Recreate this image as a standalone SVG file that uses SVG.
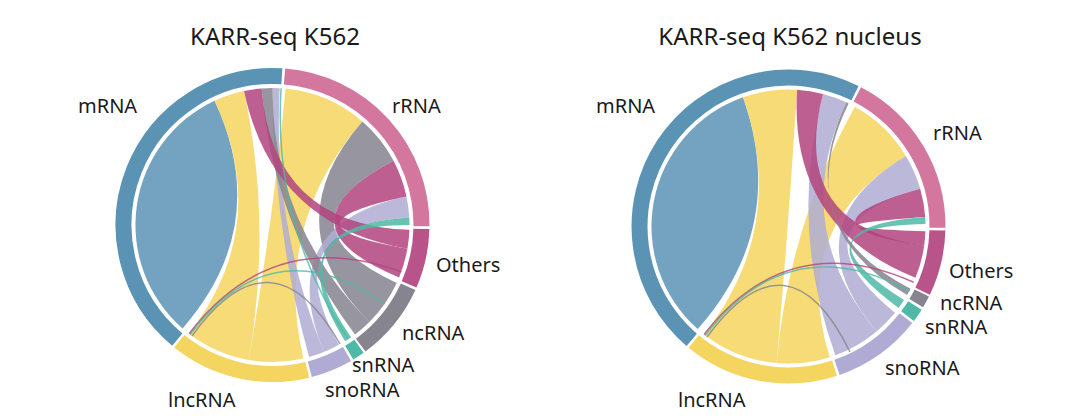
<svg xmlns="http://www.w3.org/2000/svg" width="1078" height="419" viewBox="0 0 1078 419">
<style>
text{font-family:"Noto Sans","Liberation Sans",sans-serif;fill:#1a1a1a}
.t{font-size:24px;text-anchor:middle}
.l{font-size:20px}
.ring{fill:none;stroke-width:16}
.rb{fill-opacity:.85;stroke:none}
.ln{fill:none;stroke-width:1.5;stroke-opacity:.8}
</style>
<rect width="1078" height="419" fill="#fff"/>
<text class="t" x="275" y="45">KARR-seq K562</text>
<text class="t" x="790" y="45">KARR-seq K562 nucleus</text>

<g id="left-ribbons">
<path class="rb" fill="#5b93b5" d="M182.6,328.4 A137,137 0 0 1 214.6,100.8 Q272.5,225 182.6,328.4Z"/>
<path class="rb" fill="#f4d55f" d="M214.6,100.8 A137,137 0 0 1 244,91 Q272.5,225 248.7,359.9 A137,137 0 0 1 189.1,333.7 Q272.5,225 214.6,100.8Z"/>
<path class="rb" fill="#f4d55f" d="M285.6,88.6 A137,137 0 0 1 362.4,121.6 Q272.5,225 303.3,358.5 A137,137 0 0 1 248.7,359.9 Q272.5,225 285.6,88.6Z"/>
<path class="rb" fill="#85848f" d="M362.4,121.6 A137,137 0 0 1 393.5,160.7 Q272.5,225 396.7,282.9 A137,137 0 0 1 369.4,321.9 Q272.5,225 362.4,121.6Z"/>
<path class="rb" fill="#b0abd4" d="M406.5,196.5 A137,137 0 0 1 409.3,217.8 Q272.5,225 338.9,344.8 A137,137 0 0 1 323.8,352 Q272.5,225 406.5,196.5Z"/>
<path class="rb" fill="#b0abd4" d="M272.5,88 A137,137 0 0 1 279.7,88.2 Q272.5,225 323.8,352 A137,137 0 0 1 309.1,357 Q272.5,225 272.5,88Z"/>
<path class="rb" fill="#85848f" d="M261.7,88.4 A137,137 0 0 1 272.5,88 Q272.5,225 369.4,321.9 A137,137 0 0 1 355,334.4 Q272.5,225 261.7,88.4Z"/>
<path class="rb" fill="#b2447e" d="M393.5,160.7 A137,137 0 0 1 406.5,196.5 Q272.5,225 407.4,248.8 A137,137 0 0 1 399.1,277.4 Q272.5,225 393.5,160.7Z"/>
<path class="rb" fill="#b2447e" d="M244,91 A137,137 0 0 1 261.7,88.4 Q272.5,225 409.4,229.8 A137,137 0 0 1 407.4,248.8 Q272.5,225 244,91Z"/>
<path class="rb" fill="#4fb8a6" d="M409.3,217.8 A137,137 0 0 1 409.5,225 Q272.5,225 351.1,337.2 A137,137 0 0 1 345.1,341.2 Q272.5,225 409.3,217.8Z"/>
<path class="ln" stroke="#4fb8a6" d="M281.1,88.3 Q272.5,225 348,339"/>
<path class="ln" stroke="#b2447e" d="M189.1,333.7 Q272.5,225 401.2,271.9"/>
<path class="ln" stroke="#4fb8a6" d="M190,334.5 Q272.5,225 384.7,303.6"/>
<path class="ln" stroke="#85848f" d="M192,336 Q272.5,225 340,344"/>
</g>
<g id="left-mRNA"><path class="ring" stroke="#5b93b5" d="M177.3,339.6 A149,149 0 0 1 281.9,76.3"/></g>
<g id="left-rRNA"><path class="ring" stroke="#d3779e" d="M284.5,76.5 A149,149 0 0 1 421.5,226.3"/></g>
<g id="left-Others"><path class="ring" stroke="#b9548b" d="M421.4,228.9 A149,149 0 0 1 409.1,284.4"/></g>
<g id="left-ncRNA"><path class="ring" stroke="#85848f" d="M408.1,286.8 A149,149 0 0 1 360.7,345.1"/></g>
<g id="left-snRNA"><path class="ring" stroke="#4fb8a6" d="M359,346.3 A149,149 0 0 1 349.2,352.7"/></g>
<g id="left-snoRNA"><path class="ring" stroke="#b0abd4" d="M347,354 A149,149 0 0 1 309.8,369.2"/></g>
<g id="left-lncRNA"><path class="ring" stroke="#f4d55f" d="M307.3,369.9 A149,149 0 0 1 179.3,341.3"/></g>
<g id="left-labels">
<text class="l" x="78" y="113">mRNA</text>
<text class="l" x="392" y="113">rRNA</text>
<text class="l" x="436" y="272">Others</text>
<text class="l" x="402" y="340">ncRNA</text>
<text class="l" x="352" y="372">snRNA</text>
<text class="l" x="325" y="397">snoRNA</text>
<text class="l" x="168" y="407">lncRNA</text>
</g>

<g id="right-ribbons">
<path class="rb" fill="#5b93b5" d="M697.7,329.1 A137,137 0 0 1 743,97.3 Q788.5,226.5 697.7,329.1Z"/>
<path class="rb" fill="#f4d55f" d="M743,97.3 A137,137 0 0 1 797.1,89.8 Q788.5,226.5 776.6,363 A137,137 0 0 1 704.1,334.5 Q788.5,226.5 743,97.3Z"/>
<path class="rb" fill="#f4d55f" d="M854.9,106.7 A137,137 0 0 1 905.9,155.9 Q788.5,226.5 829.7,357.2 A137,137 0 0 1 776.6,363 Q788.5,226.5 854.9,106.7Z"/>
<path class="rb" fill="#b0abd4" d="M905.9,155.9 A137,137 0 0 1 920.2,188.7 Q788.5,226.5 895,312.7 A137,137 0 0 1 876.6,331.4 Q788.5,226.5 905.9,155.9Z"/>
<path class="rb" fill="#b0abd4" d="M823,93.9 A137,137 0 0 1 846.4,102.3 Q788.5,226.5 876.6,331.4 A137,137 0 0 1 835.4,355.2 Q788.5,226.5 823,93.9Z"/>
<path class="rb" fill="#b2447e" d="M797.1,89.8 A137,137 0 0 1 823,93.9 Q788.5,226.5 924.2,245.6 A137,137 0 0 1 915.5,277.8 Q788.5,226.5 797.1,89.8Z"/>
<path class="rb" fill="#b2447e" d="M920.2,188.7 A137,137 0 0 1 925.2,216.9 Q788.5,226.5 925.4,231.3 A137,137 0 0 1 924.2,245.6 Q788.5,226.5 920.2,188.7Z"/>
<path class="rb" fill="#4fb8a6" d="M925.2,216.9 A137,137 0 0 1 925.5,224.1 Q788.5,226.5 904,300.1 A137,137 0 0 1 898.6,308 Q788.5,226.5 925.2,216.9Z"/>
<path class="rb" fill="#85848f" d="M846.4,102.3 A137,137 0 0 1 848.6,103.4 Q788.5,226.5 907.1,295 A137,137 0 0 1 910.6,288.7 Q788.5,226.5 846.4,102.3Z"/>
<path class="ln" stroke="#b2447e" d="M704.1,334.5 Q788.5,226.5 913.6,282.2"/>
<path class="ln" stroke="#4fb8a6" d="M705,335.5 Q788.5,226.5 909.5,290.8"/>
<path class="ln" stroke="#85848f" d="M707,337 Q788.5,226.5 850,352"/>
</g>
<g id="right-mRNA"><path class="ring" stroke="#5b93b5" d="M691.7,339.8 A149,149 0 0 1 855,93.2"/></g>
<g id="right-rRNA"><path class="ring" stroke="#d3779e" d="M857.3,94.3 A149,149 0 0 1 937.5,227.8"/></g>
<g id="right-Others"><path class="ring" stroke="#b9548b" d="M937.4,230.4 A149,149 0 0 1 922.6,291.3"/></g>
<g id="right-ncRNA"><path class="ring" stroke="#85848f" d="M921.8,293 A149,149 0 0 1 916.2,303.2"/></g>
<g id="right-snRNA"><path class="ring" stroke="#4fb8a6" d="M914.9,305.5 A149,149 0 0 1 907.5,316.2"/></g>
<g id="right-snoRNA"><path class="ring" stroke="#b0abd4" d="M905.9,318.2 A149,149 0 0 1 837,367.4"/></g>
<g id="right-lncRNA"><path class="ring" stroke="#f4d55f" d="M834.5,368.2 A149,149 0 0 1 693.7,341.5"/></g>
<g id="right-labels">
<text class="l" x="596" y="113">mRNA</text>
<text class="l" x="933" y="140">rRNA</text>
<text class="l" x="949" y="278">Others</text>
<text class="l" x="940" y="310">ncRNA</text>
<text class="l" x="925" y="334">snRNA</text>
<text class="l" x="885" y="375">snoRNA</text>
<text class="l" x="678" y="407">lncRNA</text>
</g>
</svg>
